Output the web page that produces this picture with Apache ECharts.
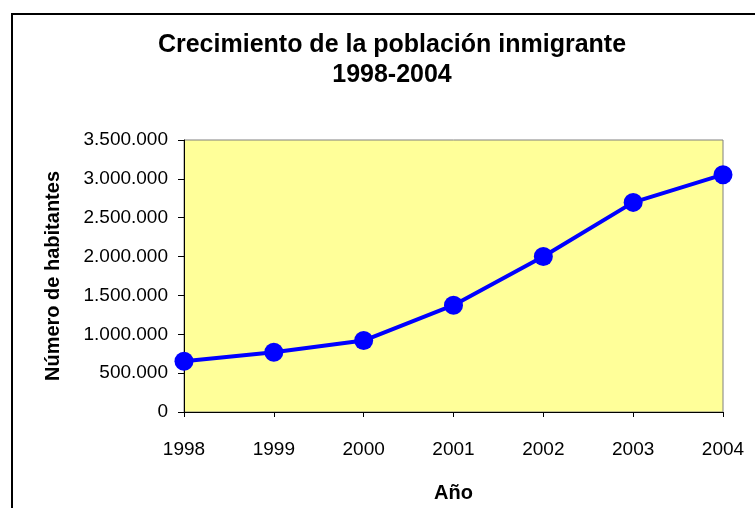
<!DOCTYPE html>
<html>
<head>
<meta charset="utf-8">
<script src="https://cdn.jsdelivr.net/npm/echarts@6/dist/echarts.min.js"></script>
<style>
  html, body { margin: 0; padding: 0; background: #fff; }
  #chart { width: 755px; height: 508px; }
</style>
</head>
<body>
<div id="chart"></div>
<script>
// datos
var years = ['1998', '1999', '2000', '2001', '2002', '2003', '2004'];
var habitantes = [652000, 768000, 919000, 1374000, 2001000, 2697000, 3054000];
var yTicks = [0, 500000, 1000000, 1500000, 2000000, 2500000, 3000000, 3500000];

function puntos(v) {
  return String(v).replace(/\B(?=(\d{3})+(?!\d))/g, '.');
}

var chart = echarts.init(document.getElementById('chart'));

var option = {
  backgroundColor: '#ffffff',
  animation: false,
  title: {
    text: 'Crecimiento de la población inmigrante\n1998-2004',
    left: 387,
    top: 25,
    textAlign: 'center',
    textStyle: {
      fontFamily: 'Liberation Sans',
      fontWeight: 'bold',
      fontSize: 25,
      lineHeight: 30,
      color: '#000'
    }
  },
  graphic: [
    {
      type: 'rect',
      shape: { x: 12, y: 14, width: 800, height: 600 },
      style: { fill: null, stroke: '#000', lineWidth: 2 },
      silent: true
    }
  ],
  grid: {
    left: 184,
    right: 32,
    top: 140,
    bottom: 96,
    outerBoundsMode: 'none',
    containLabel: false,
    show: true,
    backgroundColor: '#FFFF99',
    borderColor: '#808080',
    borderWidth: 1
  },
  xAxis: {
    type: 'category',
    data: years,
    boundaryGap: false,
    name: 'Año',
    nameLocation: 'middle',
    nameGap: 71,
    nameTextStyle: { fontFamily: 'Liberation Sans', fontWeight: 'bold', fontSize: 20, color: '#000' },
    axisLine: { lineStyle: { color: '#000', width: 1 } },
    axisTick: { show: true, length: 5, lineStyle: { color: '#000' } },
    axisLabel: { fontFamily: 'Liberation Sans', fontSize: 19, color: '#000', margin: 28 },
    splitLine: { show: false }
  },
  yAxis: {
    type: 'value',
    min: yTicks[0],
    max: yTicks[yTicks.length - 1],
    interval: 500000,
    name: 'Número de habitantes',
    nameLocation: 'middle',
    nameGap: 121,
    nameRotate: 90,
    nameTextStyle: { fontFamily: 'Liberation Sans', fontWeight: 'bold', fontSize: 20, color: '#000' },
    axisLine: { show: true, lineStyle: { color: '#000', width: 1 } },
    axisTick: { show: true, length: 6, lineStyle: { color: '#000' } },
    axisLabel: {
      fontFamily: 'Liberation Sans',
      fontSize: 19,
      color: '#000',
      margin: 16,
      formatter: function (v) { return puntos(v); }
    },
    splitLine: { show: false }
  },
  series: [
    {
      type: 'line',
      data: habitantes,
      symbol: 'circle',
      symbolSize: 19,
      lineStyle: { color: '#0000FF', width: 4 },
      itemStyle: { color: '#0000FF' },
      z: 5
    }
  ]
};

chart.setOption(option);
</script>
</body>
</html>
